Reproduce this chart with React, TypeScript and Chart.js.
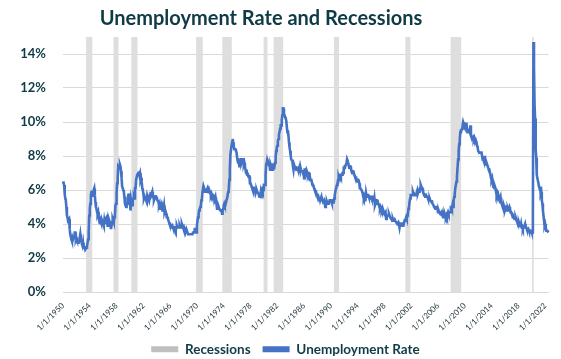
import React, { useEffect, useRef } from 'react';
import { Chart, registerables } from 'chart.js';

Chart.register(...registerables);

const START_YEAR = 1950;
const Y_MAX = 15;
const TITLE = 'Unemployment Rate and Recessions';

// Monthly unemployment rate (%), Jan 1950 onward
const u1950s = [
  6.5, 6.4, 6.3, 5.8, 5.5, 5.4, 5.0, 4.5, 4.4, 4.2, 4.2, 4.3,
  3.7, 3.4, 3.4, 3.1, 3.0, 3.2, 3.1, 3.1, 3.3, 3.5, 3.5, 3.1,
  3.2, 3.1, 2.9, 2.9, 3.0, 3.0, 3.2, 3.4, 3.1, 3.0, 2.8, 2.7,
  2.9, 2.6, 2.6, 2.7, 2.5, 2.5, 2.6, 2.7, 2.9, 3.1, 3.5, 4.5,
  4.9, 5.2, 5.7, 5.9, 5.9, 5.6, 5.8, 6.0, 6.1, 5.7, 5.3, 5.0,
  4.9, 4.7, 4.6, 4.7, 4.3, 4.2, 4.0, 4.2, 4.1, 4.3, 4.2, 4.2,
  4.0, 3.9, 4.2, 4.0, 4.3, 4.3, 4.4, 4.1, 3.9, 3.9, 4.3, 4.2,
  4.2, 3.9, 3.7, 3.9, 4.1, 4.3, 4.2, 4.1, 4.4, 4.5, 5.1, 5.2,
  5.8, 6.4, 6.7, 7.4, 7.4, 7.3, 7.5, 7.4, 7.1, 6.7, 6.2, 6.2,
  6.0, 5.9, 5.6, 5.2, 5.1, 5.0, 5.1, 5.2, 5.5, 5.7, 5.8, 5.3,
];
const u1960s = [
  5.2, 4.8, 5.4, 5.2, 5.1, 5.4, 5.5, 5.6, 5.5, 6.1, 6.1, 6.6,
  6.6, 6.9, 6.9, 7.0, 7.1, 6.9, 7.0, 6.6, 6.7, 6.5, 6.1, 6.0,
  5.8, 5.5, 5.6, 5.6, 5.5, 5.5, 5.4, 5.7, 5.6, 5.4, 5.7, 5.5,
  5.7, 5.9, 5.7, 5.7, 5.9, 5.6, 5.6, 5.4, 5.5, 5.5, 5.7, 5.5,
  5.6, 5.4, 5.4, 5.3, 5.1, 5.2, 4.9, 5.0, 5.1, 5.1, 4.8, 5.0,
  4.9, 5.1, 4.7, 4.8, 4.6, 4.6, 4.4, 4.4, 4.3, 4.2, 4.1, 4.0,
  4.0, 3.8, 3.8, 3.8, 3.9, 3.8, 3.8, 3.8, 3.7, 3.7, 3.6, 3.8,
  3.9, 3.8, 3.8, 3.8, 3.8, 3.9, 3.8, 3.8, 3.8, 4.0, 3.9, 3.8,
  3.7, 3.8, 3.7, 3.5, 3.5, 3.7, 3.7, 3.5, 3.4, 3.4, 3.4, 3.4,
  3.4, 3.4, 3.4, 3.4, 3.4, 3.5, 3.5, 3.5, 3.7, 3.7, 3.5, 3.5,
];
const u1970s = [
  3.9, 4.2, 4.4, 4.6, 4.8, 4.9, 5.0, 5.1, 5.4, 5.5, 5.9, 6.1,
  5.9, 5.9, 6.0, 5.9, 5.9, 5.9, 6.0, 6.1, 6.0, 5.8, 6.0, 6.0,
  5.8, 5.7, 5.8, 5.7, 5.7, 5.7, 5.6, 5.6, 5.5, 5.6, 5.3, 5.2,
  4.9, 5.0, 4.9, 5.0, 4.9, 4.9, 4.8, 4.8, 4.8, 4.6, 4.8, 4.9,
  5.1, 5.2, 5.1, 5.1, 5.1, 5.4, 5.5, 5.5, 5.9, 6.0, 6.6, 7.2,
  8.1, 8.1, 8.6, 8.8, 9.0, 8.8, 8.6, 8.4, 8.4, 8.4, 8.3, 8.2,
  7.9, 7.7, 7.6, 7.7, 7.4, 7.6, 7.8, 7.8, 7.6, 7.7, 7.8, 7.8,
  7.5, 7.6, 7.4, 7.2, 7.0, 7.2, 6.9, 7.0, 6.8, 6.8, 6.8, 6.4,
  6.4, 6.3, 6.3, 6.1, 6.0, 5.9, 6.2, 5.9, 6.0, 5.8, 5.9, 6.0,
  5.9, 5.9, 5.8, 5.8, 5.6, 5.7, 5.7, 6.0, 5.9, 6.0, 5.9, 6.0,
];
const u1980s = [
  6.3, 6.3, 6.3, 6.9, 7.5, 7.6, 7.8, 7.7, 7.5, 7.5, 7.5, 7.2,
  7.5, 7.4, 7.4, 7.2, 7.5, 7.5, 7.2, 7.4, 7.6, 7.9, 8.3, 8.5,
  8.6, 8.9, 9.0, 9.3, 9.4, 9.6, 9.8, 9.8, 10.1, 10.4, 10.8, 10.8,
  10.4, 10.4, 10.3, 10.2, 10.1, 10.1, 9.4, 9.5, 9.2, 8.8, 8.5, 8.3,
  8.0, 7.8, 7.8, 7.7, 7.4, 7.2, 7.5, 7.5, 7.3, 7.4, 7.2, 7.3,
  7.3, 7.2, 7.2, 7.3, 7.2, 7.4, 7.4, 7.1, 7.1, 7.1, 7.0, 7.0,
  6.7, 7.2, 7.2, 7.1, 7.2, 7.2, 7.0, 6.9, 7.0, 7.0, 6.9, 6.6,
  6.6, 6.6, 6.6, 6.3, 6.3, 6.2, 6.1, 6.0, 5.9, 6.0, 5.8, 5.7,
  5.7, 5.7, 5.7, 5.4, 5.6, 5.4, 5.4, 5.6, 5.4, 5.4, 5.3, 5.3,
  5.4, 5.2, 5.0, 5.2, 5.2, 5.3, 5.2, 5.2, 5.3, 5.3, 5.4, 5.4,
];
const u1990s = [
  5.4, 5.3, 5.2, 5.4, 5.4, 5.2, 5.5, 5.7, 5.9, 5.9, 6.2, 6.3,
  6.4, 6.6, 6.8, 6.7, 6.9, 6.9, 6.8, 6.9, 6.9, 7.0, 7.0, 7.3,
  7.3, 7.4, 7.4, 7.4, 7.6, 7.8, 7.7, 7.6, 7.6, 7.3, 7.4, 7.4,
  7.3, 7.1, 7.0, 7.1, 7.1, 7.0, 6.9, 6.8, 6.7, 6.8, 6.6, 6.5,
  6.6, 6.6, 6.5, 6.4, 6.1, 6.1, 6.1, 6.0, 5.9, 5.8, 5.6, 5.5,
  5.6, 5.4, 5.4, 5.8, 5.6, 5.6, 5.7, 5.7, 5.6, 5.5, 5.6, 5.6,
  5.6, 5.5, 5.5, 5.6, 5.6, 5.3, 5.5, 5.1, 5.2, 5.2, 5.4, 5.4,
  5.3, 5.2, 5.2, 5.1, 4.9, 5.0, 4.9, 4.8, 4.9, 4.7, 4.6, 4.7,
  4.6, 4.6, 4.7, 4.3, 4.4, 4.5, 4.5, 4.5, 4.6, 4.5, 4.4, 4.4,
  4.3, 4.4, 4.2, 4.3, 4.2, 4.3, 4.3, 4.2, 4.2, 4.1, 4.1, 4.0,
];
const u2000s = [
  4.0, 4.1, 4.0, 3.8, 4.0, 4.0, 4.0, 4.1, 3.9, 3.9, 3.9, 3.9,
  4.2, 4.2, 4.3, 4.4, 4.3, 4.5, 4.6, 4.9, 5.0, 5.3, 5.5, 5.7,
  5.7, 5.7, 5.7, 5.9, 5.8, 5.8, 5.8, 5.7, 5.7, 5.7, 5.9, 6.0,
  5.8, 5.9, 5.9, 6.0, 6.1, 6.3, 6.2, 6.1, 6.1, 6.0, 5.8, 5.7,
  5.7, 5.6, 5.8, 5.6, 5.6, 5.6, 5.5, 5.4, 5.4, 5.5, 5.4, 5.4,
  5.3, 5.4, 5.2, 5.2, 5.1, 5.0, 5.0, 4.9, 5.0, 5.0, 5.0, 4.9,
  4.7, 4.8, 4.7, 4.7, 4.6, 4.6, 4.7, 4.7, 4.5, 4.4, 4.5, 4.4,
  4.6, 4.5, 4.4, 4.5, 4.4, 4.6, 4.7, 4.6, 4.7, 4.7, 4.7, 5.0,
  5.0, 4.9, 5.1, 5.0, 5.4, 5.6, 5.8, 6.1, 6.1, 6.5, 6.8, 7.3,
  7.8, 8.3, 8.7, 9.0, 9.4, 9.5, 9.5, 9.6, 9.8, 10.0, 9.9, 9.9,
];
const u2010s = [
  9.8, 9.8, 9.9, 9.9, 9.6, 9.4, 9.4, 9.5, 9.5, 9.4, 9.8, 9.3,
  9.1, 9.0, 9.0, 9.1, 9.0, 9.1, 9.0, 9.0, 9.0, 8.8, 8.6, 8.5,
  8.3, 8.3, 8.2, 8.2, 8.2, 8.2, 8.2, 8.0, 7.8, 7.8, 7.7, 7.9,
  8.0, 7.7, 7.5, 7.6, 7.5, 7.5, 7.3, 7.2, 7.2, 7.2, 6.9, 6.7,
  6.6, 6.7, 6.7, 6.2, 6.3, 6.1, 6.2, 6.1, 5.9, 5.7, 5.8, 5.6,
  5.7, 5.5, 5.4, 5.4, 5.6, 5.3, 5.2, 5.1, 5.0, 5.0, 5.1, 5.0,
  4.8, 4.9, 5.0, 5.1, 4.8, 4.9, 4.8, 4.9, 5.0, 4.9, 4.7, 4.7,
  4.7, 4.6, 4.4, 4.4, 4.4, 4.3, 4.3, 4.4, 4.3, 4.2, 4.2, 4.1,
  4.0, 4.1, 4.0, 4.0, 3.8, 4.0, 3.8, 3.8, 3.7, 3.8, 3.8, 3.9,
  4.0, 3.8, 3.8, 3.7, 3.6, 3.6, 3.7, 3.6, 3.5, 3.6, 3.6, 3.6,
];
const u2020s = [
  3.5, 3.5, 4.4, 14.7, 13.2, 11.0, 10.2, 8.4, 7.9, 6.9, 6.7, 6.7,
  6.4, 6.2, 6.1, 6.1, 5.8, 5.9, 5.4, 5.2, 4.8, 4.5, 4.2, 3.9,
  4.0, 3.8, 3.6, 3.6, 3.6, 3.6, 3.5,
];

// NBER recessions (first month, last month)
const recessionStarts = ['1953-07', '1957-08', '1960-04', '1969-12', '1973-11', '1980-01', '1981-07', '1990-07', '2001-03', '2007-12', '2020-02'];
const recessionEnds = ['1954-05', '1958-04', '1961-02', '1970-11', '1975-03', '1980-07', '1982-11', '1991-03', '2001-11', '2009-06', '2020-04'];

const xTickLabels = [
  '1/1/1950', '1/1/1954', '1/1/1958', '1/1/1962', '1/1/1966', '1/1/1970', '1/1/1974',
  '1/1/1978', '1/1/1982', '1/1/1986', '1/1/1990', '1/1/1994', '1/1/1998', '1/1/2002',
  '1/1/2006', '1/1/2010', '1/1/2014', '1/1/2018', '1/1/2022',
];
const yTicks = [0, 2, 4, 6, 8, 10, 12, 14];

const TEAL = '#0e3b46';
const BLUE = '#4472C4';
const GRAY_BAR = '#dedede';
const GRAY_LEGEND = '#bfbfbf';

const monthIndex = (s: string) => {
  const [y, m] = s.split('-').map(Number);
  return (y - START_YEAR) * 12 + (m - 1);
};

const titlePlugin = {
  id: 'offsetTitle',
  afterDraw(chart: any) {
    const ctx = chart.ctx;
    ctx.save();
    ctx.font = 'bold 20px Lato';
    ctx.fillStyle = TEAL;
    ctx.textAlign = 'center';
    ctx.textBaseline = 'middle';
    ctx.fillText(TITLE, 261, 19);
    ctx.restore();
  },
};

export default function App() {
  const ref = useRef<HTMLCanvasElement | null>(null);

  useEffect(() => {
    if (!ref.current) return;
    const rate = [...u1950s, ...u1960s, ...u1970s, ...u1980s, ...u1990s, ...u2000s, ...u2010s, ...u2020s];
    const labels = rate.map((_, i) => `${(i % 12) + 1}/1/${START_YEAR + Math.floor(i / 12)}`);
    const periods = recessionStarts.map((s, k) => [monthIndex(s), monthIndex(recessionEnds[k])]);
    const recession = rate.map((_, i) => (periods.some(([a, b]) => i >= a && i <= b) ? Y_MAX : 0));
    const tickSet = new Set(xTickLabels);

    const chart = new Chart(ref.current, {
      type: 'line',
      data: {
        labels,
        datasets: [
          {
            label: 'Recessions',
            data: recession,
            stepped: 'middle',
            fill: 'origin',
            backgroundColor: GRAY_BAR,
            borderColor: 'rgba(0,0,0,0)',
            borderWidth: 0,
            pointRadius: 0,
            order: 2,
          },
          {
            label: 'Unemployment Rate',
            data: rate,
            borderColor: BLUE,
            backgroundColor: BLUE,
            borderWidth: 2.6,
            pointRadius: 0,
            tension: 0,
            fill: false,
            order: 1,
          },
        ],
      },
      options: {
        responsive: false,
        animation: false,
        layout: { padding: { left: 18, right: 8, top: 37, bottom: -7 } },
        scales: {
          x: {
            type: 'category',
            offset: false,
            grid: { display: false, drawTicks: false },
            border: { display: true, color: '#d9d9d9' },
            ticks: {
              autoSkip: false,
              maxRotation: 45,
              minRotation: 45,
              padding: 9,
              color: '#22363d',
              font: { family: 'Lato', size: 8 },
              callback: (_v: any, i: number) => (tickSet.has(labels[i]) ? labels[i] : null),
            },
            afterFit: (s: any) => { s.height = 38.5; },
          },
          y: {
            min: 0,
            max: Y_MAX,
            grid: { color: '#d9d9d9', drawTicks: false },
            border: { display: false },
            afterBuildTicks: (s: any) => { s.ticks = yTicks.map((v) => ({ value: v })); },
            ticks: {
              padding: 17,
              color: TEAL,
              font: { family: 'Lato', size: 13, weight: 'bold' },
              callback: (v: any) => `${v}%`,
            },
            afterFit: (s: any) => { s.width = 45; },
          },
        },
        plugins: {
          tooltip: { enabled: false },
          title: { display: false },
          legend: {
            position: 'bottom',
            labels: {
              boxWidth: 27,
              boxHeight: 6,
              padding: 12,
              color: TEAL,
              font: { family: 'Lato', size: 13.5, weight: 'bold' },
              generateLabels: () => [
                { text: 'Recessions', fillStyle: GRAY_LEGEND, strokeStyle: GRAY_LEGEND, lineWidth: 0, datasetIndex: 0, hidden: false, fontColor: TEAL },
                { text: 'Unemployment Rate', fillStyle: BLUE, strokeStyle: BLUE, lineWidth: 0, datasetIndex: 1, hidden: false, fontColor: TEAL },
              ],
            },
          },
        },
      },
      plugins: [titlePlugin],
    } as any);
    return () => chart.destroy();
  }, []);

  return (
    <div style={{ position: 'fixed', left: 0, top: 0, width: 561, height: 359, background: '#fff' }}>
      <canvas ref={ref} width={561} height={359} />
    </div>
  );
}
